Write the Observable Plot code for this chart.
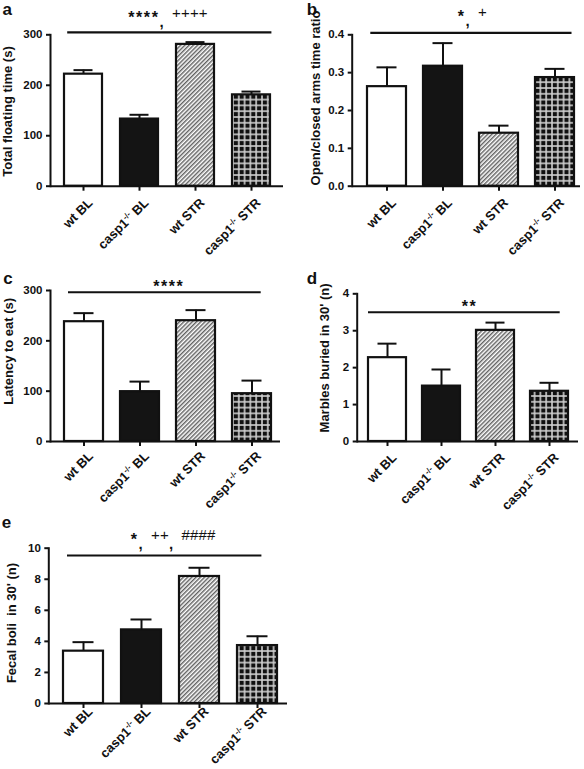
<!DOCTYPE html>
<html>
<head>
<meta charset="utf-8">
<script src="https://cdn.jsdelivr.net/npm/d3@7"></script>
<script src="https://cdn.jsdelivr.net/npm/@observablehq/plot@0.6"></script>
<style>
  html, body { margin: 0; padding: 0; background: #fff; }
  #fig { position: relative; width: 584px; height: 769px; overflow: hidden; background: #fff; }
  #fig svg.panel { position: absolute; }
</style>
</head>
<body>
<svg width="0" height="0" style="position:absolute">
  <defs>
    <pattern id="hatch" patternUnits="userSpaceOnUse" width="3" height="3" patternTransform="rotate(45)">
      <rect width="3" height="3" fill="#ffffff"></rect>
      <line x1="0.75" y1="0" x2="0.75" y2="3" stroke="#555555" stroke-width="1.35"></line>
    </pattern>
    <pattern id="grid" patternUnits="userSpaceOnUse" width="5.8" height="5.8">
      <rect width="5.8" height="5.8" fill="#111111"></rect>
      <line x1="1" y1="0" x2="1" y2="5.8" stroke="#cfcfcf" stroke-width="1.6"></line>
      <line x1="0" y1="1" x2="5.8" y2="1" stroke="#cfcfcf" stroke-width="1.6"></line>
    </pattern>
  </defs>
</svg>
<div id="fig"></div>
<script>
const FONT = '"Liberation Sans", Arial, Helvetica, sans-serif';

// ---- categories ----
const groups = ["wt BL", "casp1-/- BL", "wt STR", "casp1-/- STR"];

// ---- a: total floating time (s) ----
const floatMean = [222, 133, 281, 181];
const floatSem = [8, 8.5, 4.5, 6.5];
const floatTicks = [0, 100, 200, 300];
const floatSig = ["****", "++++"];
const floatSigLevel = 305;

// ---- b: open/closed arms time ratio ----
const armsMean = [0.263, 0.317, 0.140, 0.287];
const armsSem = [0.051, 0.061, 0.020, 0.023];
const armsTicks = [0, 0.1, 0.2, 0.3, 0.4];
const armsSig = ["*", "+"];
const armsSigLevel = 0.405;

// ---- c: latency to eat (s) ----
const latencyMean = [238, 99, 240, 95];
const latencySem = [17, 20, 21, 26];
const latencyTicks = [0, 100, 200, 300];
const latencySig = ["****"];
const latencySigLevel = 296.5;

// ---- d: marbles buried in 30' (n) ----
const marblesMean = [2.27, 1.50, 3.01, 1.36];
const marblesSem = [0.38, 0.45, 0.21, 0.23];
const marblesTicks = [0, 1, 2, 3, 4];
const marblesSig = ["**"];
const marblesSigLevel = 3.5;

// ---- e: fecal boli in 30' (n) ----
const boliMean = [3.37, 4.74, 8.18, 3.73];
const boliSem = [0.58, 0.67, 0.56, 0.60];
const boliTicks = [0, 2, 4, 6, 8, 10];
const boliSig = ["*", "++", "####"];
const boliSigLevel = 9.53;

// ---- styles ----
const fillFor = new Map([
  [groups[0], "#ffffff"],
  [groups[1], "#141414"],
  [groups[2], "url(#hatch)"],
  [groups[3], "url(#grid)"]
]);

const SVGNS = "http://www.w3.org/2000/svg";
function tspan(txt, attrs = {}) {
  const t = document.createElementNS(SVGNS, "tspan");
  for (const [k, v] of Object.entries(attrs)) t.setAttribute(k, v);
  t.textContent = txt;
  return t;
}

function fixLabels(svg, sigString, sigParts) {
  svg.querySelectorAll("text").forEach((t) => {
    const s = t.textContent;
    if (s.includes("-/-")) {
      const [pre, post] = s.split("-/-");
      t.textContent = "";
      t.appendChild(tspan(pre));
      t.appendChild(tspan("-/-", {"font-size": "8px", dy: "-5"}));
      t.appendChild(tspan(post, {dy: "5"}));
    } else if (s === sigString) {
      t.textContent = "";
      let prev = 0;
      sigParts.forEach((p, i) => {
        const star = p[0] === "*";
        const shift = star ? -4 : -8.5;
        t.appendChild(tspan(p, {dy: String(shift - prev), "letter-spacing": star ? "1.6px" : "0.2px",
          "font-weight": star ? "bold" : "normal", "font-size": star ? "16px" : "15px"}));
        prev = shift;
        if (i < sigParts.length - 1) {
          t.appendChild(tspan(",", {dy: String(-prev), "font-weight": "bold"}));
          prev = 0;
          t.appendChild(tspan("\u00a0\u00a0"));
        }
      });
    }
  });
}

function makePanel(L, mean, sem, ticks, fmt, yLabel, letter, sigParts, sigLevel) {
  const data = groups.map((g, i) => ({group: g, mean: mean[i], top: mean[i] + sem[i]}));
  const sigString = sigParts.join(", ");
  const svg = Plot.plot({
    width: L.width,
    height: L.height,
    marginLeft: L.ml,
    marginRight: L.mr,
    marginTop: L.mt,
    marginBottom: L.mb,
    style: {fontFamily: FONT, fontWeight: "bold", color: "#111", background: "transparent", overflow: "visible"},
    x: {type: "band", domain: groups, paddingInner: L.pi, paddingOuter: L.po, insetLeft: L.il, axis: null},
    y: {domain: [0, ticks[ticks.length - 1]], axis: null},
    color: {type: "identity"},
    marks: [
      Plot.barY(data, {x: "group", y: "mean", fill: (d) => fillFor.get(d.group), stroke: "#111", strokeWidth: 2.2}),
      Plot.ruleX(data, {x: "group", y1: "mean", y2: "top", stroke: "#111", strokeWidth: 2}),
      Plot.tickY(data, {x: "group", y: "top", stroke: "#111", strokeWidth: 2, inset: 9.5}),
      Plot.frame({anchor: "left", stroke: "#111", strokeWidth: 2}),
      Plot.ruleY([0], {stroke: "#111", strokeWidth: 2}),
      Plot.axisY(ticks, {tickSize: 4, tickPadding: 4, stroke: "#111", strokeWidth: 2, fontSize: 11.5, fontWeight: "bold", tickFormat: fmt, label: null}),
      Plot.axisX(groups, {tickSize: 5, stroke: "#111", strokeWidth: 2, tickFormat: () => "", label: null}),
      Plot.axisX(groups, {tickSize: 0, tickPadding: L.tp, tickRotate: -45, dx: 7, fontSize: 13, fontWeight: "bold", label: null}),
      Plot.ruleY([sigLevel], {y: (d) => d, x1: () => groups[0], x2: () => groups[groups.length - 1], stroke: "#111", strokeWidth: 2.2, insetLeft: L.siL, insetRight: L.siR}),
      Plot.text([sigString], {y: () => sigLevel, text: (d) => d, lineAnchor: "bottom", textAnchor: "middle", dx: L.sdx, dy: L.sdy, fontSize: 15, fontWeight: "normal", fill: "#111"}),
      Plot.text([yLabel], {text: (d) => d, frameAnchor: "left", rotate: -90, textAnchor: "middle", lineAnchor: "middle", dx: L.ldx, dy: L.ldy, fontSize: 13, fontWeight: "bold", fill: "#111"}),
      Plot.text([letter], {text: (d) => d, frameAnchor: "top-left", textAnchor: "start", lineAnchor: "bottom", dx: L.kdx, dy: L.kdy, fontSize: 17, fontWeight: "bold", fill: "#111"})
    ]
  });
  svg.classList.add("panel");
  svg.style.left = L.left + "px";
  svg.style.top = L.top + "px";
  fixLabels(svg, sigString, sigParts);
  document.getElementById("fig").appendChild(svg);
}

const fmtInt = (d) => d3.format("d")(d);
const fmt1 = (d) => d3.format(".1f")(d);

makePanel({left: 0, top: 0, width: 290, height: 250, ml: 50, mr: 7, mt: 34.3, mb: 64.3, pi: 0.32, po: 0.2, il: 1.5, tp: 14.5,
  ldx: -42.5, ldy: 1, kdx: -48, kdy: -20, sdx: 1, sdy: -5.7, siL: 3.2, siR: -1.4},
  floatMean, floatSem, floatTicks, fmtInt, "Total floating time (s)", "a", floatSig, floatSigLevel);

makePanel({left: 290, top: 0, width: 294, height: 250, ml: 61.7, mr: 4, mt: 34.3, mb: 64.3, pi: 0.31, po: 0.08, il: 9.5, tp: 14.5,
  ldx: -36.7, ldy: -12.5, kdx: -45.5, kdy: -20, sdx: 6, sdy: -7.3, siL: 3.3, siR: 2.5},
  armsMean, armsSem, armsTicks, fmt1, "Open/closed arms time ratio", "b", armsSig, armsSigLevel);

makePanel({left: 0, top: 250, width: 290, height: 255, ml: 50, mr: 10, mt: 40, mb: 64, pi: 0.31, po: 0.14, il: 4.7, tp: 12.5,
  ldx: -42, ldy: -14.7, kdx: -47.2, kdy: -6.2, sdx: 3.3, sdy: 3.3, siL: 4, siR: 10.3},
  latencyMean, latencySem, latencyTicks, fmtInt, "Latency to eat (s)", "c", latencySig, latencySigLevel);

makePanel({left: 290, top: 250, width: 294, height: 255, ml: 66.7, mr: 6, mt: 43.3, mb: 64, pi: 0.3, po: 0.145, il: 2, tp: 14,
  ldx: -32.7, ldy: -9.7, kdx: -50.5, kdy: -9.5, sdx: 1.7, sdy: 3.3, siL: 0, siR: 8.3},
  marblesMean, marblesSem, marblesTicks, fmtInt, "Marbles buried in 30' (n)", "d", marblesSig, marblesSigLevel);

makePanel({left: 0, top: 505, width: 290, height: 264, ml: 48.3, mr: 3, mt: 42.7, mb: 66, pi: 0.31, po: 0.166, il: 4.7, tp: 6,
  ldx: -37.3, ldy: -2.8, kdx: -47, kdy: -20.5, sdx: 5, sdy: -6.7, siL: 4, siR: 15.6},
  boliMean, boliSem, boliTicks, fmtInt, "Fecal boli  in 30' (n)", "e", boliSig, boliSigLevel);
</script>
</body>
</html>
